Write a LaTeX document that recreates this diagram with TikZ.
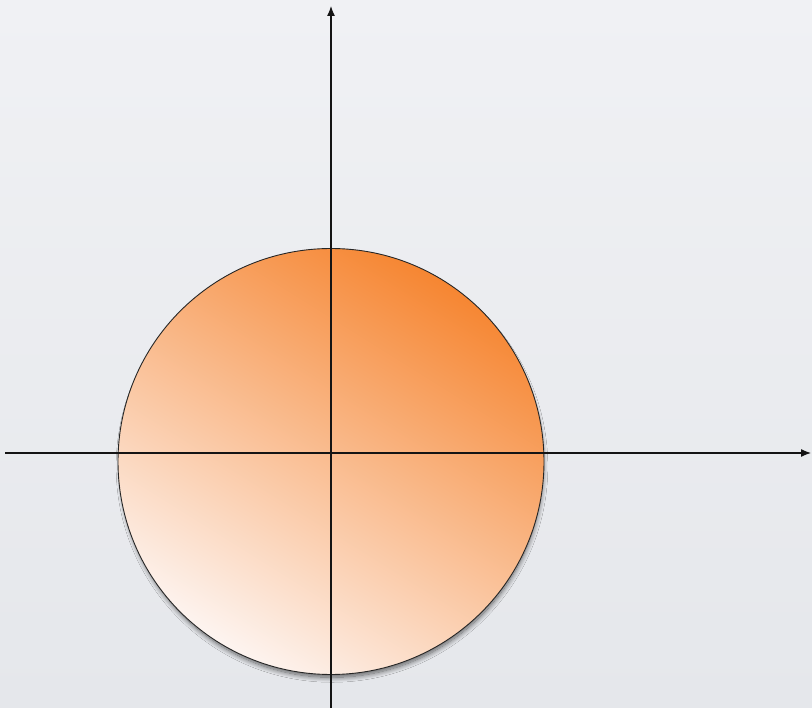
\documentclass[tikz,border=0pt]{standalone}
\usetikzlibrary{arrows.meta,shadows.blur}
\definecolor{bgtop}{RGB}{240,241,244}
\definecolor{bgbot}{RGB}{229,231,235}
\definecolor{discor}{RGB}{246,134,50}
\definecolor{discpale}{RGB}{253,244,240}
\definecolor{axiscol}{RGB}{20,20,20}
\tikzset{
  axisline/.style={draw=axiscol, line width=1.2pt, -{Latex[length=10pt,width=8pt]}},
  disc/.style={draw=black!85, line width=0.9pt, top color=discor, bottom color=discpale, shading angle=-32,
    blur shadow={shadow xshift=1pt, shadow yshift=-5pt, shadow opacity=60, shadow blur radius=5pt, shadow blur steps=12, shadow scale=0.99}}
}
\begin{document}
\begin{tikzpicture}[x=1pt,y=-1pt]
\shade[top color=bgtop, bottom color=bgbot] (0,0) rectangle (812,708);
\useasboundingbox (0,0) rectangle (812,708);
\coordinate (c) at (331,461.5);
\coordinate (xl) at (5,453);
\coordinate (xr) at (811,453);
\coordinate (yb) at (331,708);
\coordinate (yt) at (331,6);
\path[disc] (c) circle[radius=213];
\draw[axisline] (xl) -- (xr);
\draw[axisline] (yb) -- (yt);
\end{tikzpicture}
\end{document}
